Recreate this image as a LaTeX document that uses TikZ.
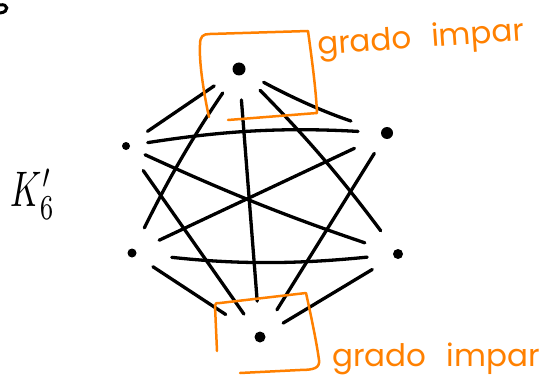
\documentclass[tikz,border=0pt]{standalone}
\usepackage{fontspec}
\newfontfamily\handfont{Poppins}
\definecolor{orng}{RGB}{255,128,0}
\begin{document}
\begin{tikzpicture}[x=1pt,y=-1pt,
  dot/.style={circle,fill=black,inner sep=0pt},
  edge/.style={line width=3.3pt,line cap=round,black},
  obox/.style={draw=orng,line width=2.5pt,line cap=round,line join=round},
  olabel/.style={text=orng,font=\handfont\fontsize{31}{31}\selectfont,inner sep=0pt}]
\useasboundingbox (0,0) rectangle (543,385);
% vertices
\node[dot,minimum size=13pt] (T)  at (239,69)  {};
\node[dot,minimum size=8pt]  (UL) at (126,146) {};
\node[dot,minimum size=12pt] (UR) at (387,133) {};
\node[dot,minimum size=9pt]  (LL) at (132,253) {};
\node[dot,minimum size=10pt] (LR) at (398,254) {};
\node[dot,minimum size=11pt] (B)  at (260,337) {};
% edges
\draw[edge,shorten <=30pt,shorten >=26pt] (T.center) -- (UL.center);
\draw[edge,shorten <=28pt,shorten >=38pt] (T.center) to[bend right=5] (UR.center);
\draw[edge,shorten <=29pt,shorten >=28pt] (T.center) to[bend right=4] (LL.center);
\draw[edge,shorten <=31pt,shorten >=36pt] (T.center) -- (B.center);
\draw[edge,shorten <=30pt,shorten >=29pt] (T.center) to[bend left=4] (LR.center);
\draw[edge,shorten <=22pt,shorten >=29pt] (UL.center) to[bend left=6] (UR.center);
\draw[edge,shorten <=21pt,shorten >=35pt] (UL.center) to[bend right=3] (LR.center);
\draw[edge,shorten <=30pt,shorten >=28pt] (UL.center) -- (B.center);
\draw[edge,shorten <=36pt,shorten >=30pt] (UR.center) -- (LL.center);
\draw[edge,shorten <=24pt,shorten >=32pt] (UR.center) -- (B.center);
\draw[edge,shorten <=40pt,shorten >=31pt] (LL.center) to[bend right=6] (LR.center);
\draw[edge,shorten <=25pt,shorten >=41pt] (LL.center) -- (B.center);
\draw[edge,shorten <=30pt,shorten >=27pt] (LR.center) -- (B.center);
% orange boxes
\draw[obox] (209,117) .. controls (203,90) and (199,60) .. (200,45)
  .. controls (200,36) and (203,34) .. (210,34) -- (308,31)
  .. controls (312,60) and (316,90) .. (317,113) -- (228,120);
\draw[obox] (217,351) -- (215,306) .. controls (215,303) and (216,303) .. (220,303)
  -- (306,293) .. controls (312,320) and (317,345) .. (319,360)
  .. controls (320,368) and (314,370) .. (300,370) -- (240,373);
% labels
\node[olabel,rotate=4] (lt) at (421,40) {grado\hspace{20pt}impar};
\node[olabel] (lb) at (436,359) {grado\hspace{20pt}impar};
\node[inner sep=0pt] (k6) at (33,194) {\scalebox{3.4}[5]{$K_6'$}};
% partial mark at the top-left corner
\draw[line width=3pt,line cap=round] (0,5) .. controls (8,3) and (10,12) .. (0,13);
\end{tikzpicture}
\end{document}
